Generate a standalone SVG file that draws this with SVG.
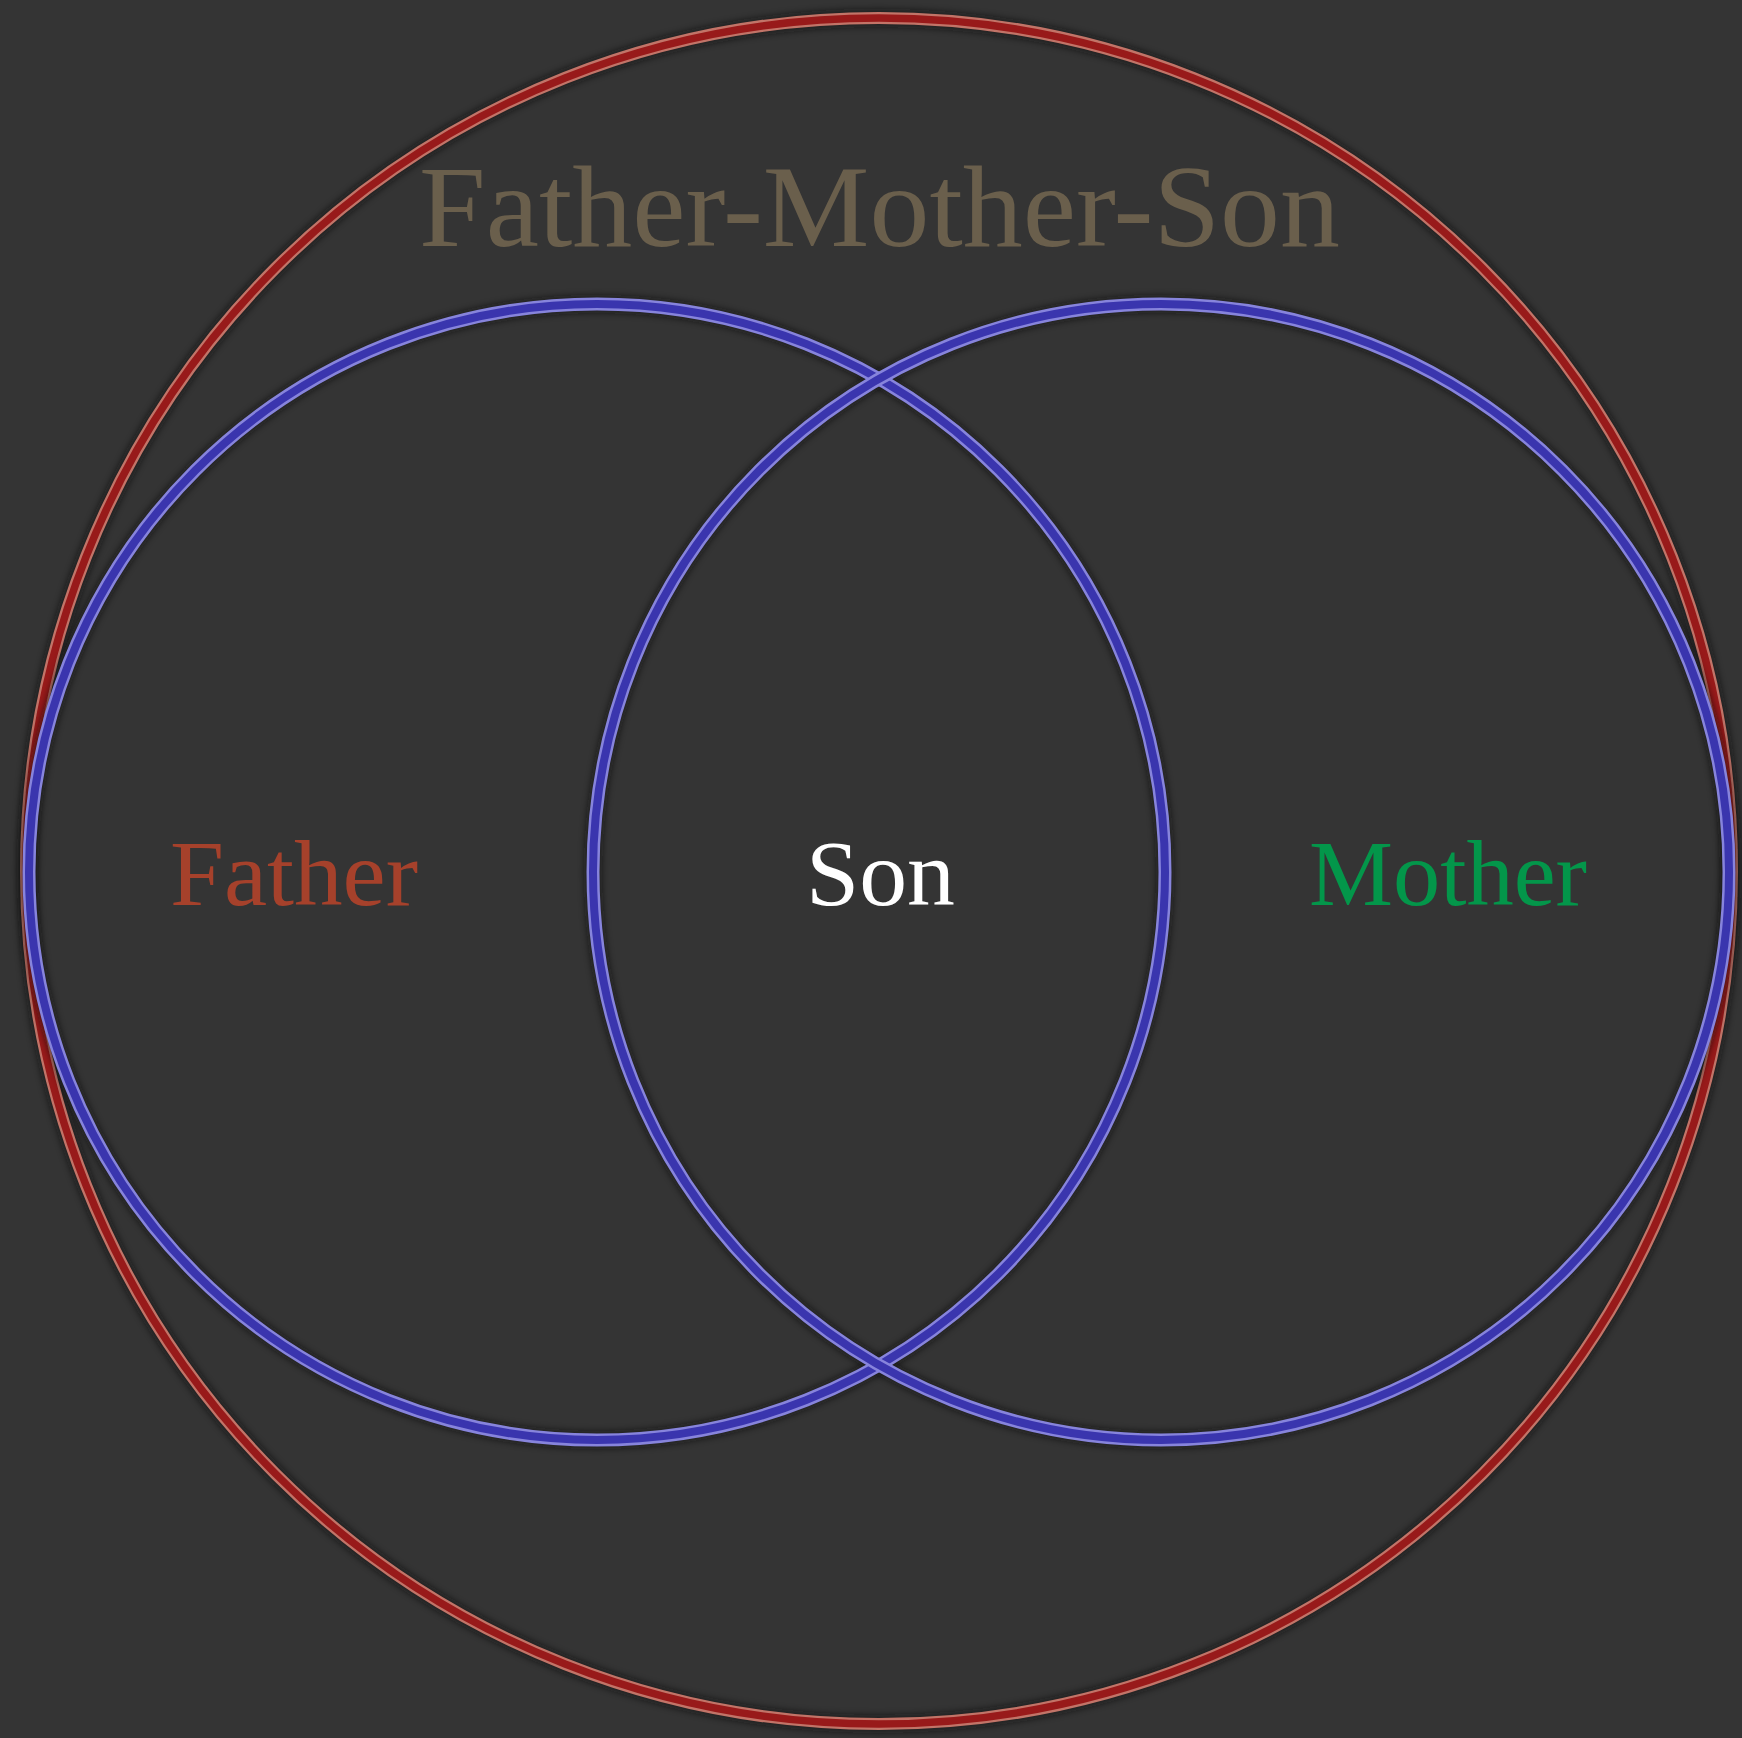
<svg xmlns="http://www.w3.org/2000/svg" width="1742" height="1738" viewBox="0 0 1742 1738">
  <defs>
    <filter id="shadow" x="-10%" y="-10%" width="120%" height="120%">
      <feGaussianBlur stdDeviation="3"/>
    </filter>
  </defs>
  <style>
    .shadow { fill: none; stroke: #111; stroke-width: 18; opacity: 0.55; filter: url(#shadow); }
    .red-edge { fill: none; stroke: #c27468; stroke-width: 12; }
    .red-core { fill: none; stroke: #981a1a; stroke-width: 7.5; }
    .blue-edge { fill: none; stroke: #8784dc; stroke-width: 13; }
    .blue-core { fill: none; stroke: #3a35ae; stroke-width: 8; }
    .label { font-family: "Liberation Serif", "Times New Roman", serif; }
  </style>
  <rect x="0" y="0" width="1742" height="1738" fill="#343434"/>
  <g id="outer-set">
    <circle class="shadow" cx="879" cy="871" r="853"/>
    <circle class="red-edge" cx="879" cy="871" r="853"/>
    <circle class="red-core" cx="879" cy="871" r="853"/>
  </g>
  <g id="father-set">
    <circle class="shadow" cx="597" cy="872" r="568"/>
  </g>
  <g id="mother-set">
    <circle class="shadow" cx="1161" cy="872" r="568"/>
  </g>
  <g id="father-ring">
    <circle class="blue-edge" cx="597" cy="872" r="568"/>
    <circle class="blue-core" cx="597" cy="872" r="568"/>
  </g>
  <g id="mother-ring">
    <circle class="blue-edge" cx="1161" cy="872" r="568"/>
    <circle class="blue-core" cx="1161" cy="872" r="568"/>
  </g>
  <g id="title">
    <text class="label" x="419" y="246" font-size="117" fill="#6a5f4c" textLength="921" lengthAdjust="spacingAndGlyphs">Father-Mother-Son</text>
  </g>
  <g id="father">
    <text class="label" x="170" y="905" font-size="94" fill="#a6412b" textLength="248" lengthAdjust="spacingAndGlyphs">Father</text>
  </g>
  <g id="son">
    <text class="label" x="806" y="905" font-size="94" fill="#ffffff" textLength="149" lengthAdjust="spacingAndGlyphs">Son</text>
  </g>
  <g id="mother">
    <text class="label" x="1309" y="905" font-size="94" fill="#03964a" textLength="278" lengthAdjust="spacingAndGlyphs">Mother</text>
  </g>
  <g id="connectors"></g>
</svg>
